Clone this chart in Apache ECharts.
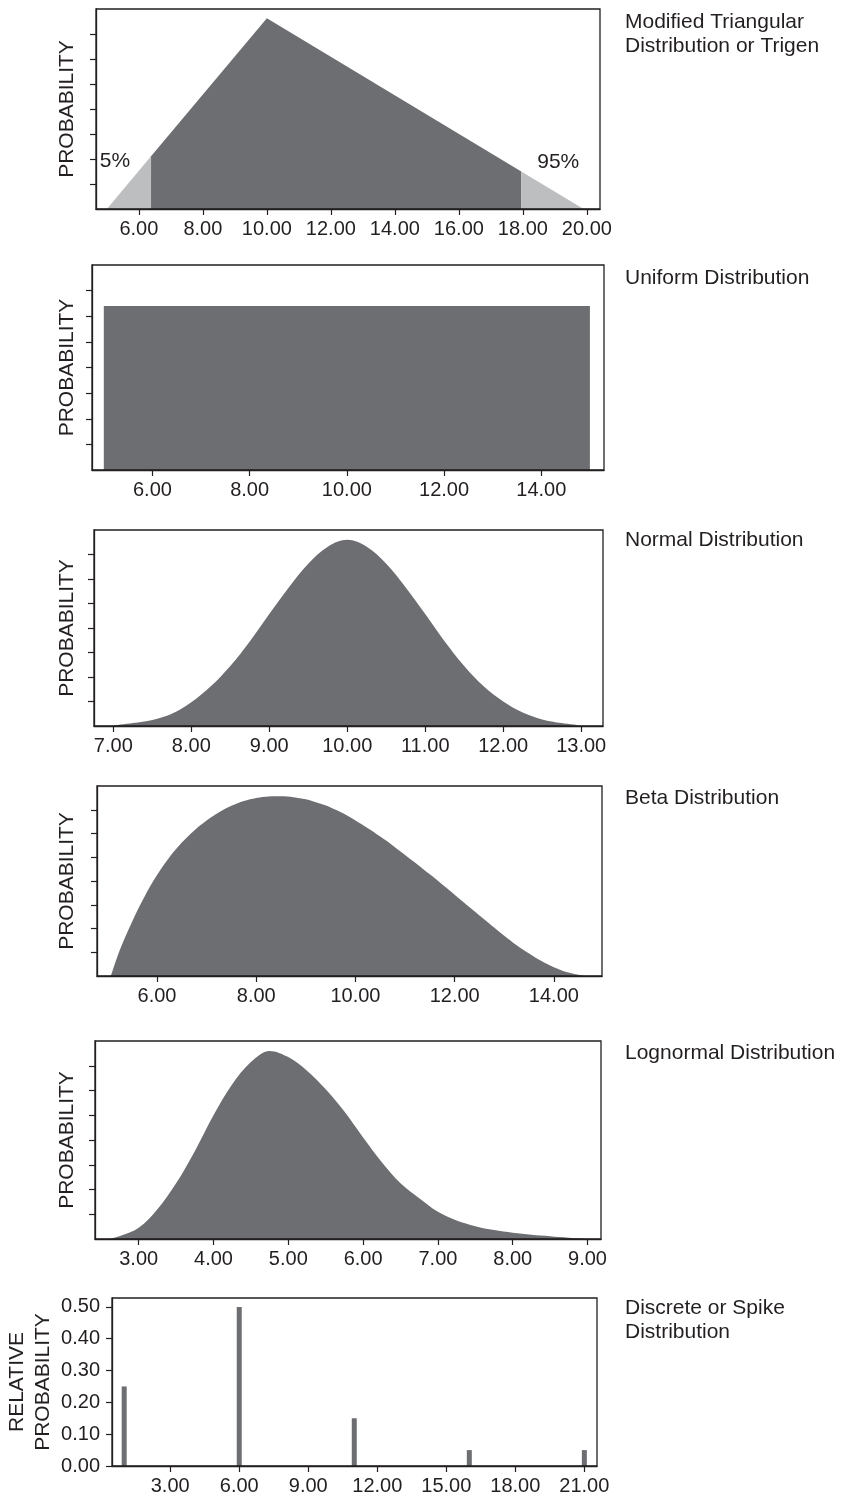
<!DOCTYPE html>
<html>
<head>
<meta charset="utf-8">
<script src="https://cdn.jsdelivr.net/npm/echarts@6/dist/echarts.min.js"></script>
<style>
  html, body { margin: 0; padding: 0; background: #ffffff; }
  #chart { width: 842px; height: 1497px; }
</style>
</head>
<body>
<div id="chart"></div>
<script>
// ---------------- data ----------------
const panelTitles = [
  'Modified Triangular\nDistribution or Trigen',
  'Uniform Distribution',
  'Normal Distribution',
  'Beta Distribution',
  'Lognormal Distribution',
  'Discrete or Spike\nDistribution'
];

// Modified triangular (Trigen): low / mode / high corners, and the 5% / 95% cut points
const trigenTicks = [6, 8, 10, 12, 14, 16, 18, 20];
const trigenCorners = [[5.0, 0], [10.0, 7.63], [19.9, 0]];
const trigenCuts = [[6.38, 2.11], [17.95, 1.50]];
const trigenCutLabels = ['5%', '95%'];

// Uniform
const uniformTicks = [6, 8, 10, 12, 14];
const uniformRange = [5, 15];
const uniformLevel = 6.4;

// Normal
const normalTicks = [7, 8, 9, 10, 11, 12, 13];
const normalX = [7.00, 7.25, 7.50, 7.75, 8.00, 8.25, 8.50, 8.75, 9.00, 9.25, 9.50, 9.75, 10.00,
                 10.25, 10.50, 10.75, 11.00, 11.25, 11.50, 11.75, 12.00, 12.25, 12.50, 12.75, 13.00];
const normalY = [0.02, 0.12, 0.25, 0.50, 0.97, 1.62, 2.45, 3.45, 4.57, 5.65, 6.62, 7.32, 7.60,
                 7.32, 6.62, 5.65, 4.57, 3.45, 2.45, 1.62, 1.00, 0.55, 0.27, 0.12, 0.02];

// Beta
const betaTicks = [6, 8, 10, 12, 14];
const betaX = [5.07, 5.25, 5.50, 5.75, 6.00, 6.25, 6.50, 6.75, 7.00, 7.25, 7.50, 7.75, 8.00,
               8.25, 8.50, 8.75, 9.00, 9.25, 9.50, 9.75, 10.00, 10.25, 10.50, 10.75, 11.00,
               11.25, 11.50, 11.75, 12.00, 12.25, 12.50, 12.75, 13.00, 13.25, 13.50, 13.75,
               14.00, 14.25, 14.50, 14.62];
const betaY = [0.00, 1.10, 2.30, 3.35, 4.25, 5.00, 5.62, 6.13, 6.55, 6.90, 7.17, 7.37, 7.50,
               7.56, 7.57, 7.53, 7.44, 7.28, 7.10, 6.85, 6.55, 6.22, 5.87, 5.50, 5.10,
               4.70, 4.28, 3.85, 3.42, 2.98, 2.55, 2.12, 1.70, 1.30, 0.95, 0.63,
               0.37, 0.17, 0.05, 0.00];

// Lognormal
const lognormalTicks = [3, 4, 5, 6, 7, 8, 9];
const lognormalX = [2.61, 2.75, 3.00, 3.25, 3.50, 3.75, 4.00, 4.25, 4.50, 4.75, 5.00, 5.25,
                    5.50, 5.75, 6.00, 6.25, 6.50, 6.75, 7.00, 7.25, 7.50, 7.75, 8.00, 8.25,
                    8.50, 8.75, 9.00];
const lognormalY = [0.00, 0.12, 0.45, 1.20, 2.25, 3.55, 5.00, 6.25, 7.15, 7.60, 7.35, 6.80,
                    6.05, 5.15, 4.10, 3.10, 2.25, 1.65, 1.10, 0.75, 0.52, 0.36, 0.25, 0.17,
                    0.11, 0.05, 0.00];

// Discrete / spike
const spikeTicks = [3, 6, 9, 12, 15, 18, 21];
const spikeX = [1, 6, 11, 16, 21];
const spikeP = [0.25, 0.50, 0.15, 0.05, 0.05];
const spikeYTicks = [0, 0.1, 0.2, 0.3, 0.4, 0.5];

// density panels share an unlabelled 0..8 scale
const densityYTicks = [1, 2, 3, 4, 5, 6, 7];

// ---------------- styles ----------------
const INK = '#231f20';
const DARK = '#6d6e71';
const LIGHT = '#bcbec0';
const FONT = '"Liberation Sans", Arial, Helvetica, sans-serif';

// grid boxes: left, top, width, height (px) and x-range of each panel
const panels = [
  { left: 96,  top: 9,    width: 504, height: 200, xMin: 4.66,  xMax: 20.41, ticks: trigenTicks },
  { left: 92,  top: 265,  width: 512, height: 205, xMin: 4.757, xMax: 15.29, ticks: uniformTicks },
  { left: 94,  top: 530,  width: 509, height: 196, xMin: 6.752, xMax: 13.28, ticks: normalTicks },
  { left: 97,  top: 786,  width: 505, height: 190, xMin: 4.79,  xMax: 14.97, ticks: betaTicks },
  { left: 95,  top: 1041, width: 506, height: 198, xMin: 2.416, xMax: 9.18,  ticks: lognormalTicks },
  { left: 112, top: 1298, width: 485, height: 168, xMin: 0.47,  xMax: 21.55, ticks: spikeTicks }
];
const titleTops = [10, 266, 528, 786, 1041, 1296];

const grids = [], xAxes = [], yAxes = [], titles = [], series = [];

panels.forEach((p, i) => {
  grids.push({
    left: p.left, top: p.top, width: p.width, height: p.height,
    containLabel: false, outerBoundsMode: 'none',
    show: true, z: 5, backgroundColor: 'transparent',
    borderColor: INK, borderWidth: 1.3
  });
  xAxes.push({
    gridIndex: i, type: 'value', min: p.xMin, max: p.xMax, z: 6,
    splitLine: { show: false },
    axisLine: { show: true, onZero: false, lineStyle: { color: INK, width: 1.3 } },
    axisTick: { show: true, length: 6, customValues: p.ticks, lineStyle: { color: INK, width: 1.2 } },
    axisLabel: {
      show: true, customValues: p.ticks, margin: 10,
      color: INK, fontSize: 20, fontFamily: FONT,
      formatter: v => v.toFixed(2)
    }
  });
  const isSpike = i === 5;
  yAxes.push({
    gridIndex: i, type: 'value', z: 6,
    min: 0, max: isSpike ? 0.528 : 8,
    name: isSpike ? 'RELATIVE\nPROBABILITY' : 'PROBABILITY',
    nameLocation: 'middle', nameRotate: 90, nameMoveOverlap: false,
    nameGap: isSpike ? 56 : p.left - 80,
    nameTextStyle: { color: INK, fontSize: 21, fontFamily: FONT, lineHeight: 26 },
    splitLine: { show: false },
    axisLine: { show: true, lineStyle: { color: INK, width: 1.3 } },
    axisTick: { show: true, length: 6, customValues: isSpike ? spikeYTicks : densityYTicks,
                lineStyle: { color: INK, width: 1.2 } },
    axisLabel: {
      show: isSpike, customValues: spikeYTicks, margin: 12,
      color: INK, fontSize: 20, fontFamily: FONT,
      formatter: v => v.toFixed(2)
    }
  });
  titles.push({
    text: panelTitles[i], left: 625, top: titleTops[i], padding: 0,
    textStyle: { color: INK, fontSize: 21, fontWeight: 'normal', fontFamily: FONT, lineHeight: 24 }
  });
});

// filled area helper
function area(idx, data, color) {
  return {
    type: 'line', xAxisIndex: idx, yAxisIndex: idx, data: data,
    symbol: 'none', smooth: false, silent: true,
    lineStyle: { width: 0 }, areaStyle: { color: color, opacity: 1 }
  };
}
function smoothArea(idx, xs, ys) {
  const s = area(idx, xs.map((x, k) => [x, ys[k]]), DARK);
  s.smooth = 0.35;
  return s;
}

// Trigen: light tails, dark body
series.push(area(0, [trigenCorners[0], trigenCuts[0]], LIGHT));
series.push(area(0, [trigenCuts[0], trigenCorners[1], trigenCuts[1]], DARK));
series.push(area(0, [trigenCuts[1], trigenCorners[2]], LIGHT));
series.push({
  type: 'scatter', xAxisIndex: 0, yAxisIndex: 0, symbolSize: 0, silent: true,
  itemStyle: { opacity: 1, color: INK },
  data: trigenCuts.map((c, k) => ({ value: c, name: trigenCutLabels[k] })),
  label: {
    show: true, formatter: d => d.name, color: INK, fontSize: 21, fontFamily: FONT,
    position: 'inside', opacity: 1
  },
  labelLayout: params => params.dataIndex === 0
    ? { dx: -36, dy: 5 }
    : { dx: 37, dy: -9 }
});

// Uniform block
series.push(area(1, [
  [uniformRange[0], 0], [uniformRange[0], uniformLevel],
  [uniformRange[1], uniformLevel], [uniformRange[1], 0]
], DARK));

// Smooth densities
series.push(smoothArea(2, normalX, normalY));
series.push(smoothArea(3, betaX, betaY));
series.push(smoothArea(4, lognormalX, lognormalY));

// Spikes
series.push({
  type: 'bar', xAxisIndex: 5, yAxisIndex: 5, barWidth: 5, silent: true,
  data: spikeX.map((x, k) => [x, spikeP[k]]),
  itemStyle: { color: DARK }
});

const chart = echarts.init(document.getElementById('chart'), null, { renderer: 'canvas' });
chart.setOption({
  animation: false,
  backgroundColor: '#ffffff',
  title: titles,
  grid: grids,
  xAxis: xAxes,
  yAxis: yAxes,
  series: series
});
</script>
</body>
</html>
